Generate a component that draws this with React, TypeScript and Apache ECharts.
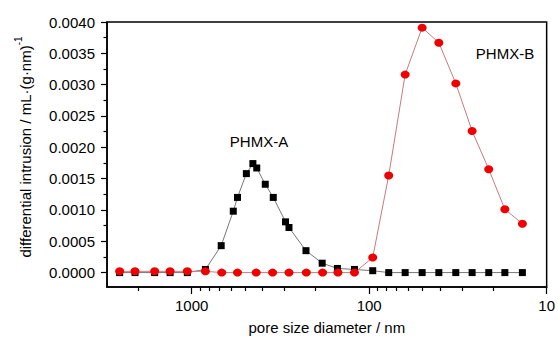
import React, { useEffect, useRef } from 'react';
import * as echarts from 'echarts';

const diameterA = [2547, 2086, 1617, 1323, 1058, 837, 682, 583, 552, 492, 452, 430, 385, 347, 296, 283, 227, 184, 151, 121, 95.5, 77.6, 62.7, 50.3, 40.5, 32.5, 26.3, 21.2, 17.2, 13.7];
const intrusionA = [0, 0, 0, 0, 0, 0.00005, 0.00043, 0.00098, 0.0012, 0.00158, 0.00174, 0.00167, 0.00141, 0.0012, 0.00081, 0.00072, 0.00035, 0.00015, 0.000066, 0.00005, 0.00003, 0, 0, 0, 0, 0, 0, 0, 0, 0];

const diameterB = [2547, 2086, 1617, 1323, 1058, 837, 677, 552, 433, 350, 283, 226, 183, 150, 121, 95.5, 77.6, 62.7, 50.3, 40.5, 32.5, 26.3, 21.2, 17.2, 13.7];
const intrusionB = [0.00002, 0.00002, 0.00002, 0.00002, 0.00002, 0.00002, 0, 0, 0, 0, 0, 0, 0, 0, 0, 0.00024, 0.00155, 0.00316, 0.00391, 0.00367, 0.00302, 0.00226, 0.00165, 0.00101, 0.00078];

const xMajorTicks = [10, 100, 1000];
const xMinorTicks = [20, 30, 40, 50, 60, 70, 80, 90, 200, 300, 400, 500, 600, 700, 800, 900, 2000];
const yMajorTicks = [0, 0.0005, 0.001, 0.0015, 0.002, 0.0025, 0.003, 0.0035, 0.004];
const yMinorTicks = [0.00025, 0.00075, 0.00125, 0.00175, 0.00225, 0.00275, 0.00325, 0.00375];

const FONT = 'Liberation Sans, Arial, sans-serif';

export default function App() {
  const ref = useRef<HTMLDivElement>(null);
  useEffect(() => {
    if (!ref.current) return;
    const chart = echarts.init(ref.current, undefined, { renderer: 'svg' });
    const axisLine = { show: true, onZero: false, lineStyle: { color: '#000', width: 1.5 } };
    chart.setOption({
      animation: false,
      grid: { left: 107, right: 4, top: 22, bottom: 48, show: true, borderColor: '#000', borderWidth: 1.5 },
      xAxis: [
        {
          type: 'log', logBase: 10, min: 10, max: 3000, inverse: true, position: 'bottom',
          axisLine,
          axisTick: { show: true, length: 7, customValues: xMajorTicks, lineStyle: { color: '#000', width: 1.2 } },
          axisLabel: { customValues: xMajorTicks, formatter: (v: number) => String(Math.round(v)), fontSize: 15, color: '#000', fontFamily: FONT, margin: 11 },
          splitLine: { show: false },
          minorTick: { show: false },
          name: 'pore size diameter / nm', nameLocation: 'middle', nameGap: 33,
          nameTextStyle: { fontSize: 15, color: '#000', fontFamily: FONT },
        },
        {
          type: 'log', logBase: 10, min: 10, max: 3000, inverse: true, position: 'bottom',
          axisLine: { show: false, onZero: false },
          axisTick: { show: true, length: 4, customValues: xMinorTicks, lineStyle: { color: '#000', width: 1.2 } },
          axisLabel: { show: false },
          splitLine: { show: false },
        },
      ],
      yAxis: [
        {
          type: 'value', min: -0.00023, max: 0.004, position: 'left',
          axisLine,
          axisTick: { show: true, length: 6, customValues: yMajorTicks, lineStyle: { color: '#000', width: 1.2 } },
          axisLabel: { customValues: yMajorTicks, formatter: (v: number) => v.toFixed(4), fontSize: 15, color: '#000', fontFamily: FONT, margin: 12 },
          splitLine: { show: false },
        },
        {
          type: 'value', min: -0.00023, max: 0.004, position: 'left',
          axisLine: { show: false, onZero: false },
          axisTick: { show: true, length: 3.5, customValues: yMinorTicks, lineStyle: { color: '#000', width: 1.2 } },
          axisLabel: { show: false },
          splitLine: { show: false },
        },
      ],
      graphic: [
        { type: 'text', x: 259, y: 141.5, style: { text: 'PHMX-A', fontSize: 15, fill: '#000', fontFamily: FONT, align: 'center', verticalAlign: 'middle' } },
        { type: 'text', x: 505, y: 53, style: { text: 'PHMX-B', fontSize: 15, fill: '#000', fontFamily: FONT, align: 'center', verticalAlign: 'middle' } },
        {
          type: 'text', x: 23, y: 147, rotation: Math.PI / 2,
          style: {
            text: '{a|differential intrusion / mL·(g·nm)}{b|-1}',
            align: 'center', verticalAlign: 'middle',
            rich: {
              a: { fontSize: 15, fill: '#000', fontFamily: FONT, lineHeight: 19, verticalAlign: 'bottom' },
              b: { fontSize: 10, fill: '#000', fontFamily: FONT, lineHeight: 19, verticalAlign: 'top' },
            },
          },
        },
      ],
      series: [
        {
          type: 'line', xAxisIndex: 0, yAxisIndex: 0,
          data: diameterA.map((d, i) => [d, intrusionA[i]]),
          symbol: 'rect', symbolSize: 7,
          itemStyle: { color: '#000' },
          lineStyle: { color: '#777', width: 1 },
        },
        {
          type: 'line', xAxisIndex: 0, yAxisIndex: 0,
          data: diameterB.map((d, i) => [d, intrusionB[i]]),
          symbol: 'circle', symbolSize: [9, 8],
          itemStyle: { color: '#f00000' },
          lineStyle: { color: '#c97b7b', width: 1 },
        },
      ],
    });
    return () => chart.dispose();
  }, []);
  return <div ref={ref} style={{ width: 558, height: 340, position: 'absolute', left: 0, top: 0 }} />;
}
